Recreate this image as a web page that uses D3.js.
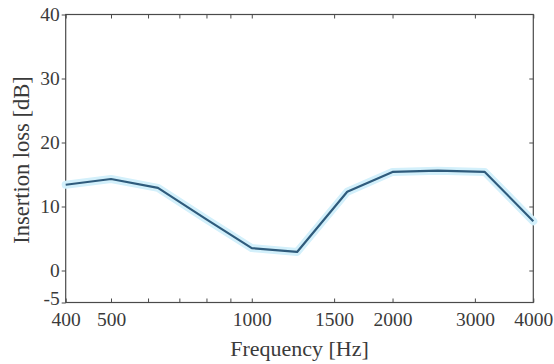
<!DOCTYPE html>
<html><head><meta charset="utf-8">
<script src="https://cdn.jsdelivr.net/npm/d3@7"></script>
<style>body{margin:0;background:#fff}svg{display:block}</style>
</head><body>
<script>
const frequencies = [400, 500, 630, 800, 1000, 1250, 1600, 2000, 2500, 3150, 4000];
const insertionLoss = [13.4, 14.3, 12.9, 8.0, 3.5, 2.9, 12.3, 15.4, 15.6, 15.4, 7.7];
const xTickValues = [400, 500, 600, 700, 800, 900, 1000, 1500, 2000, 3000, 4000];
const xTickLabels = [400, 500, 1000, 1500, 2000, 3000, 4000];
const yTickValues = [-5, 0, 10, 20, 30, 40];

const W = 554, H = 364;
const m = {left: 65.7, right: 533.3, top: 14.5, bottom: 302.5};
const svg = d3.select("body").append("svg").attr("width", W).attr("height", H);
const x = d3.scaleLog().domain([400, 4000]).range([m.left, m.right]);
const y = d3.scaleLinear().domain([-5, 40]).range([m.bottom, m.top]);
const axisColor = "#4a4a4a";
const font = "'Liberation Serif', 'Times New Roman', serif";

// frame
svg.append("rect").attr("x", m.left).attr("y", m.top)
  .attr("width", m.right - m.left).attr("height", m.bottom - m.top)
  .attr("fill", "none").attr("stroke", axisColor).attr("stroke-width", 1.2);

// x ticks (bottom & top, inward)
const fmt = d => xTickLabels.includes(d) ? String(d) : "";
const xb = svg.append("g").attr("transform", `translate(0,${m.bottom})`)
  .call(d3.axisBottom(x).tickValues(xTickValues).tickFormat(fmt).tickSize(-4).tickPadding(10));
const xt = svg.append("g").attr("transform", `translate(0,${m.top})`)
  .call(d3.axisTop(x).tickValues(xTickValues).tickFormat("").tickSize(-4));
// y ticks (left outward, right inward)
const yl = svg.append("g").attr("transform", `translate(${m.left},0)`)
  .call(d3.axisLeft(y).tickValues(yTickValues).tickFormat(d => String(d)).tickSize(4).tickPadding(2));
const yr = svg.append("g").attr("transform", `translate(${m.right},0)`)
  .call(d3.axisRight(y).tickValues(yTickValues.filter(v => v > -5 && v < 40)).tickFormat("").tickSize(-4));
[xb, xt, yl, yr].forEach(g => {
  g.select(".domain").remove();
  g.selectAll("line").attr("stroke", axisColor).attr("stroke-width", 1);
  g.selectAll("text").attr("fill", "#3a3a3a").attr("font-family", font).attr("font-size", 19.5);
});
xb.selectAll("text").attr("dy", "0.71em");
yl.selectAll(".tick").filter(d => d === -5).select("text").attr("dy", "0.1em");

// line: halo + core
const line = d3.line().x((d, i) => x(frequencies[i])).y(d => y(d));
svg.append("path").datum(insertionLoss).attr("d", line)
  .attr("fill", "none").attr("stroke", "#d3f0fb").attr("stroke-width", 8)
  .attr("stroke-linejoin", "round").attr("stroke-linecap", "round");
svg.append("path").datum(insertionLoss).attr("d", line)
  .attr("fill", "none").attr("stroke", "#2f5b7c").attr("stroke-width", 2.2)
  .attr("stroke-linejoin", "round");

// axis titles
svg.append("text").attr("x", (m.left + m.right) / 2).attr("y", 356)
  .attr("text-anchor", "middle").attr("font-family", font).attr("font-size", 22)
  .attr("fill", "#3a3a3a").text("Frequency [Hz]");
svg.append("text").attr("transform", `translate(29,160) rotate(-90)`)
  .attr("text-anchor", "middle").attr("font-family", font).attr("font-size", 22.5)
  .attr("fill", "#3a3a3a").text("Insertion loss [dB]");
</script>
</body></html>
